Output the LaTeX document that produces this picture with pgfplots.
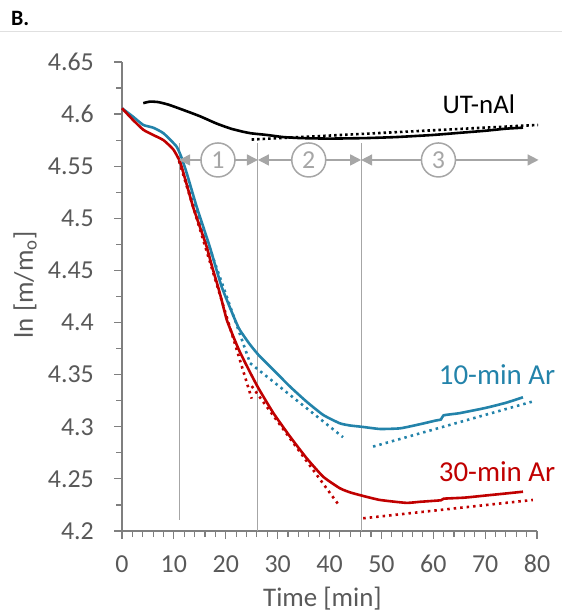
\documentclass[border=0pt]{standalone}
\usepackage{pgfplots}
\pgfplotsset{compat=1.18}
\usepackage{fontspec}
\setmainfont{Carlito}
\usetikzlibrary{arrows.meta}
\definecolor{tickgray}{HTML}{595959}
\definecolor{axisgray}{HTML}{7F7F7F}
\definecolor{guidegray}{HTML}{A6A6A6}
\definecolor{arblue}{HTML}{2383AA}
\definecolor{arred}{HTML}{C00000}
\tikzset{stagenum/.style={circle, draw=guidegray, line width=1.5bp, fill=white,
  text=guidegray, minimum size=34bp, inner sep=0, font=\fontsize{26}{30}\selectfont}}

\begin{document}
\begin{tikzpicture}[x=1bp,y=1bp]
\path[use as bounding box] (0,0) rectangle (562,613);
\node[anchor=base west, inner sep=0, font=\fontsize{22}{26}\selectfont\bfseries] at (11,587) {B.};
\draw[color=black!12, line width=1bp] (0,581) -- (562,581);
\begin{axis}[
  at={(122bp,82bp)}, anchor=south west,
  scale only axis, width=415bp, height=469bp,
  xmin=0, xmax=80, ymin=4.2, ymax=4.65,
  axis x line*=bottom, axis y line*=left,
  axis line style={axisgray, line width=1.6bp, -},
  xtick={0,10,20,30,40,50,60,70,80},
  ytick={4.2,4.25,4.3,4.35,4.4,4.45,4.5,4.55,4.6,4.65},
  minor x tick num=4, minor y tick num=1,
  tick align=outside,
  major tick length=8bp, minor tick length=6bp,
  tick style={axisgray, line width=1.2bp},
  ticklabel style={font=\fontsize{26}{30}\selectfont, text=tickgray, inner sep=0pt},
  xticklabel style={yshift=-16bp},
  yticklabel style={xshift=-20bp},
  /pgf/number format/assume math mode=true,
  yticklabel style={/pgf/number format/fixed, /pgf/number format/precision=2},
  xlabel={Time [min]}, ylabel={ln [m/m\textsubscript{o}]},
  label style={font=\fontsize{27}{31}\selectfont, text=tickgray},
  xlabel style={at={(axis description cs:0.483,0)}, anchor=base, yshift=-75bp},
  ylabel style={at={(axis description cs:-0.2337,0.5245)}, anchor=center},
  clip=false,
]
% stage boundaries
\draw[guidegray, line width=1bp] (axis cs:11,4.2106) -- (axis cs:11,4.572);
\draw[guidegray, line width=1bp] (axis cs:26.2,4.2) -- (axis cs:26.2,4.572);
\draw[guidegray, line width=1bp] (axis cs:46.1,4.2) -- (axis cs:46.1,4.572);

% untreated nAl
\addplot[black, line width=2.6bp, smooth, tension=0.3] coordinates {
 (4.1,4.6105) (5.4,4.612) (7,4.6115) (9,4.609) (11.8,4.604) (15,4.598)
 (18.2,4.591) (21,4.586) (23.4,4.583) (25,4.5815) (27.9,4.580) (31,4.578)
 (34.3,4.577) (40,4.5765) (47.1,4.577) (53,4.578) (60,4.580) (65,4.582)
 (70,4.584) (74,4.586) (77.3,4.587)};
\addplot[black, line width=2.6bp, dash pattern=on 2.5bp off 3bp] coordinates {(25,4.5756) (80.2,4.5896)};

% 10-min Ar
\addplot[arblue, line width=2.6bp, smooth, tension=0.3] coordinates {
 (0,4.6056) (2,4.598) (4.1,4.5896) (6,4.587) (8,4.5816) (10.5,4.569)
 (11.5,4.558) (12.5,4.543) (14.4,4.511) (16.9,4.473) (19.2,4.4345)
 (21.8,4.4025) (22.7,4.393) (24.5,4.380) (26.3,4.369) (29.2,4.3545)
 (32.4,4.3385) (35.6,4.324) (38.8,4.3113) (42,4.3033) (44,4.3012)
 (46.2,4.300) (49.7,4.2979) (53.6,4.2985) (57.4,4.3024) (60.5,4.306)
 (61.5,4.307) (62,4.311) (65,4.313) (70,4.318) (74,4.323) (77.3,4.3283)};
\addplot[arblue, line width=2.6bp, dash pattern=on 2.5bp off 4bp] coordinates {(11,4.555) (24.7,4.361)};
\addplot[arblue, line width=2.6bp, dash pattern=on 2.5bp off 4bp] coordinates {(24.7,4.361) (42.6,4.290)};
\addplot[arblue, line width=2.6bp, dash pattern=on 2.5bp off 4bp] coordinates {(48.4,4.281) (79,4.324)};

% 30-min Ar
\addplot[arred, line width=2.6bp, smooth, tension=0.3] coordinates {
 (0,4.6056) (2,4.595) (4.1,4.585) (6,4.580) (8,4.575) (9.9,4.566)
 (11.2,4.554) (12.5,4.532) (13.7,4.511) (15,4.492) (16.3,4.473)
 (17.4,4.453) (18.5,4.4345) (19.2,4.4217) (20.2,4.4025) (21.5,4.386)
 (22.7,4.372) (24.5,4.354) (26.3,4.337) (29.2,4.313) (32.4,4.2905)
 (35.6,4.2698) (38.8,4.252) (42,4.241) (44,4.237) (46.2,4.234)
 (49.7,4.2298) (54.8,4.227) (57.4,4.228) (61.5,4.2295) (62,4.231)
 (66,4.232) (70,4.234) (74,4.236) (77.3,4.2377)};
\addplot[arred, line width=2.6bp, dash pattern=on 2.5bp off 4bp] coordinates {(11,4.555) (25,4.327)};
\addplot[arred, line width=2.6bp, dash pattern=on 2.5bp off 4bp] coordinates {(25,4.339) (42,4.2235)};
\addplot[arred, line width=2.6bp, dash pattern=on 2.5bp off 4bp] coordinates {(46.5,4.2122) (79.2,4.2298)};

% stage arrows
\begin{scope}[guidegray, line width=1.5bp, -{Triangle[length=11bp,width=11bp]}]
\draw (axis cs:18.5,4.556) -- (axis cs:11,4.556);
\draw (axis cs:18.5,4.556) -- (axis cs:26.2,4.556);
\draw (axis cs:36,4.556) -- (axis cs:26.2,4.556);
\draw (axis cs:36,4.556) -- (axis cs:46.1,4.556);
\draw (axis cs:61,4.556) -- (axis cs:46.1,4.556);
\draw (axis cs:61,4.556) -- (axis cs:80.3,4.556);
\end{scope}
\node[stagenum] at (axis cs:18.5,4.556) {1};
\node[stagenum] at (axis cs:36,4.556) {2};
\node[stagenum] at (axis cs:61,4.556) {3};

% series labels
\node[font=\fontsize{27}{31}\selectfont, text=black] at (axis cs:68.8,4.609) {UT-nAl};
\node[font=\fontsize{29}{33}\selectfont, text=arblue] at (axis cs:72.3,4.35) {10-min Ar};
\node[font=\fontsize{29}{33}\selectfont, text=arred] at (axis cs:72.3,4.257) {30-min Ar};
\end{axis}
\end{tikzpicture}
\end{document}
